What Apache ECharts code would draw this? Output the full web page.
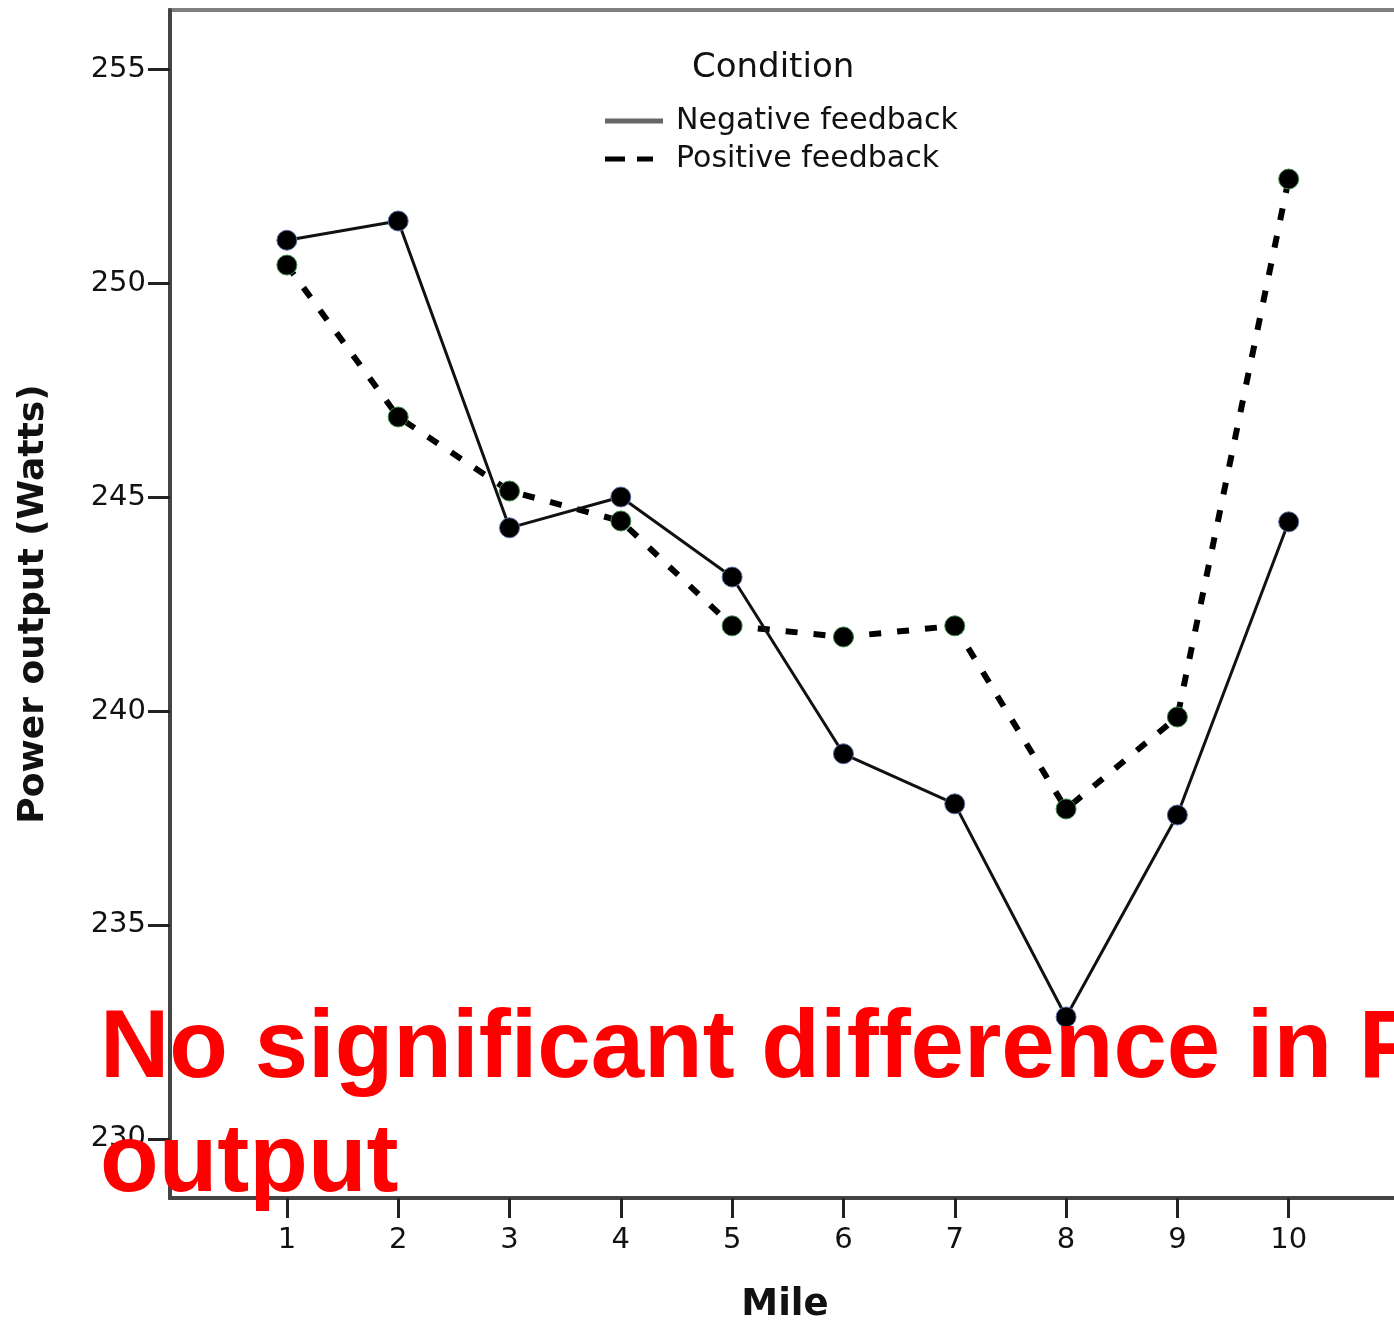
<!DOCTYPE html>
<html>
<head>
<meta charset="utf-8">
<script src="https://cdn.jsdelivr.net/npm/echarts@6/dist/echarts.min.js"></script>
<style>html,body{margin:0;padding:0;background:#fff}#c{width:1394px;height:1321px}</style>
</head>
<body>
<div id="c"></div>
<script>
const miles = [1, 2, 3, 4, 5, 6, 7, 8, 9, 10];
const negativeFeedback = [251.0, 251.45, 244.28, 245.0, 243.13, 239.0, 237.83, 232.85, 237.57, 244.42];
const positiveFeedback = [250.42, 246.87, 245.14, 244.44, 241.99, 241.73, 241.99, 237.71, 239.86, 252.43];
const yTicks = [230, 235, 240, 245, 250, 255];
const xTicks = [1, 2, 3, 4, 5, 6, 7, 8, 9, 10];
const seriesNames = ['Negative feedback', 'Positive feedback'];
const legendTitle = 'Condition';
const xTitle = 'Mile';
const yTitle = 'Power output (Watts)';
const overlayText = 'No significant difference in Power\noutput';

const chart = echarts.init(document.getElementById('c'), null, {renderer: 'canvas'});
const pair = (vals) => miles.map((m, i) => [m, vals[i]]);
const FONT = 'DejaVu Sans';

chart.setOption({
  animation: false,
  backgroundColor: '#fff',
  title: {
    text: legendTitle,
    left: 692, top: 51, padding: 0,
    textStyle: {fontFamily: FONT, fontSize: 34, fontWeight: 'normal', color: '#111'}
  },
  legend: {
    orient: 'vertical',
    left: 605, top: 106, padding: 0,
    itemWidth: 58, itemHeight: 5,
    itemGap: 8,
    symbolKeepAspect: false,
    textStyle: {fontFamily: FONT, fontSize: 30, color: '#111', lineHeight: 30, padding: [0, 0, 0, 8]},
    data: [
      {name: seriesNames[0], icon: 'path://M0,0H58V4H0Z', itemStyle: {color: '#666', borderWidth: 0}},
      {name: seriesNames[1], icon: 'path://M0,0H20V6H0Z M32,0H48V6H32Z M58,6Z', itemStyle: {color: '#000', borderWidth: 0}}
    ]
  },
  grid: {
    left: 170, top: 10, width: 1230, height: 1188,
    outerBoundsMode: 'none',
    show: true, borderColor: '#808080', borderWidth: 4, backgroundColor: 'transparent',
    containLabel: false
  },
  xAxis: {
    type: 'value', min: -0.05, max: 11,
    name: xTitle, nameLocation: 'middle', nameGap: 89,
    nameTextStyle: {fontFamily: FONT, fontSize: 37, fontWeight: 'bold', color: '#111'},
    axisLine: {show: true, onZero: false, lineStyle: {color: '#444', width: 4}},
    axisTick: {show: true, length: 20, customValues: xTicks, lineStyle: {color: '#222', width: 3}},
    axisLabel: {customValues: xTicks, margin: 28, fontFamily: FONT, fontSize: 29, color: '#111'},
    splitLine: {show: false}
  },
  yAxis: {
    type: 'value', min: 228.62, max: 256.38,
    name: yTitle, nameLocation: 'middle', nameGap: 118, nameRotate: 90,
    nameTextStyle: {fontFamily: FONT, fontSize: 36, fontWeight: 'bold', color: '#111'},
    axisLine: {show: true, onZero: false, lineStyle: {color: '#444', width: 4}},
    axisTick: {show: true, length: 22, customValues: yTicks, lineStyle: {color: '#222', width: 3}},
    axisLabel: {customValues: yTicks, margin: 24, fontFamily: FONT, fontSize: 29, color: '#111'},
    splitLine: {show: false}
  },
  series: [
    {
      name: seriesNames[1], type: 'line', data: pair(positiveFeedback),
      symbol: 'circle', symbolSize: 20,
      itemStyle: {color: '#000', borderColor: '#3d8a4a', borderWidth: 1},
      lineStyle: {color: '#000', width: 6, type: [12, 16]},
      z: 3
    },
    {
      name: seriesNames[0], type: 'line', data: pair(negativeFeedback),
      symbol: 'circle', symbolSize: 20,
      itemStyle: {color: '#000', borderColor: '#5a6fa8', borderWidth: 1},
      lineStyle: {color: '#111', width: 3},
      z: 4
    }
  ],
  graphic: [
    {
      type: 'text', left: 100, top: 994, z: 100,
      style: {
        text: overlayText,
        fontFamily: 'Liberation Sans', fontWeight: 'bold', fontSize: 96,
        lineHeight: 114, fill: '#ff0000'
      }
    }
  ]
});
</script>
</body>
</html>
